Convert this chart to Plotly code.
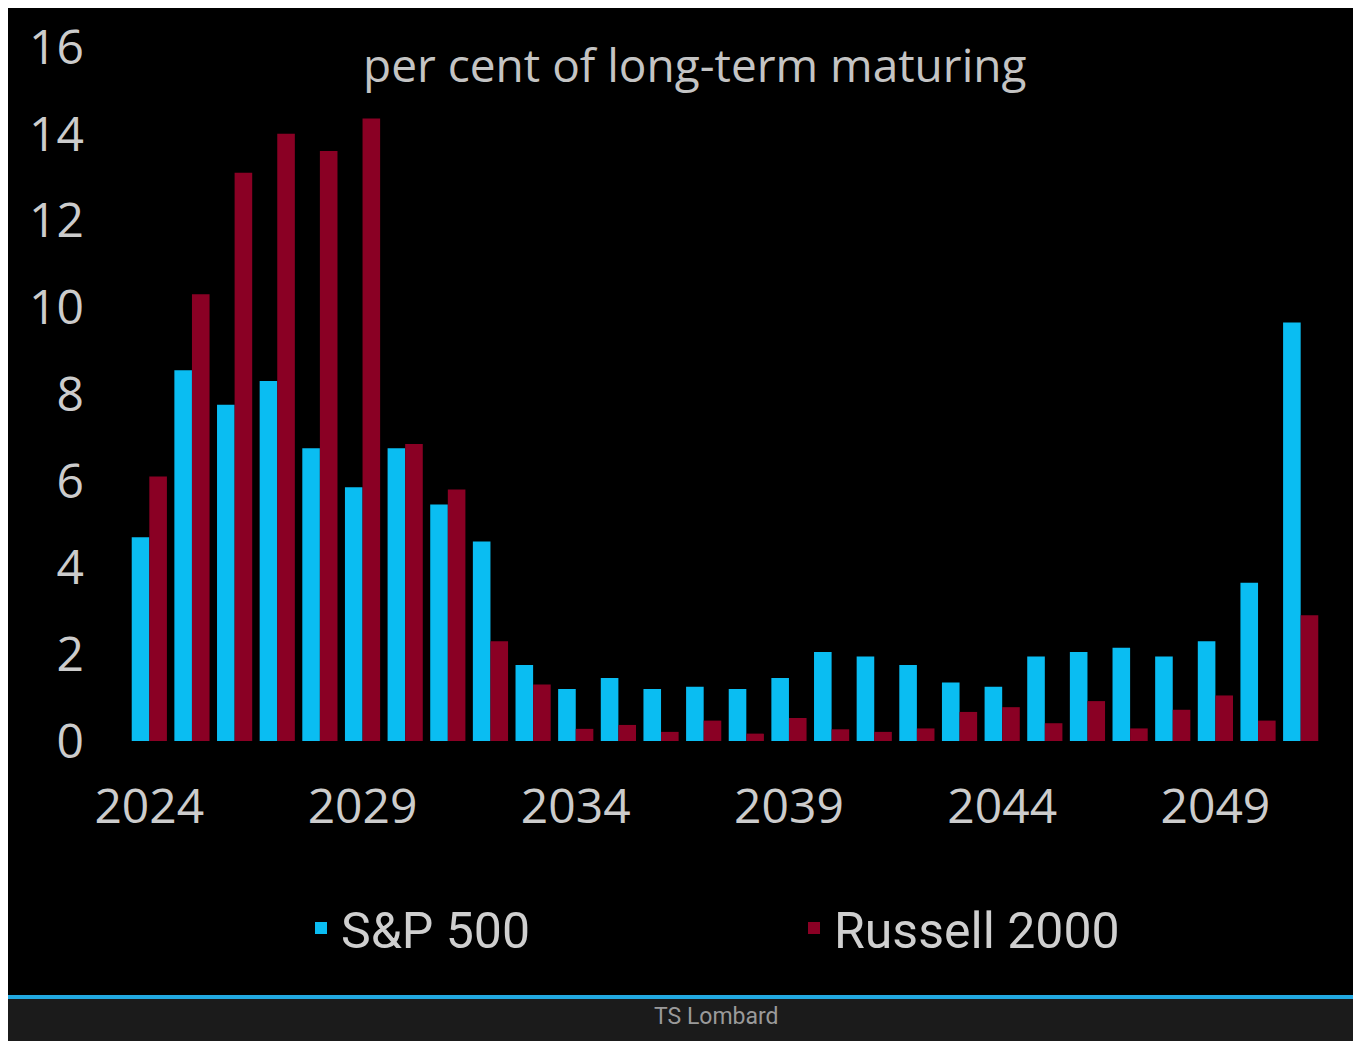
import plotly.graph_objects as go

years = list(range(2024, 2052))
sp500 = [4.7, 8.55, 7.75, 8.3, 6.75, 5.85, 6.75, 5.45, 4.6, 1.75, 1.2, 1.45, 1.2, 1.25,
         1.2, 1.45, 2.05, 1.95, 1.75, 1.35, 1.25, 1.95, 2.05, 2.15, 1.95, 2.3, 3.65, 9.65]
russell = [6.1, 10.3, 13.1, 14.0, 13.6, 14.35, 6.85, 5.8, 2.3, 1.3, 0.28, 0.37, 0.21, 0.47,
           0.17, 0.53, 0.27, 0.21, 0.29, 0.67, 0.78, 0.41, 0.92, 0.29, 0.72, 1.05, 0.47, 2.9]
y_ticks = [0, 2, 4, 6, 8, 10, 12, 14, 16]
x_ticks = [2024, 2029, 2034, 2039, 2044, 2049]

W, H = 1353, 1041
L, R, T, B = 128, 1322, 47, 741

BLUE = "#0ABDF2"
RED = "#8A0024"
FONT = "Roboto, Arial, sans-serif"
TICKFONT = "Open Sans, Arial, sans-serif"

fig = go.Figure()
fig.add_trace(go.Bar(x=years, y=sp500, name="S&P 500", marker=dict(color=BLUE, line=dict(width=0)),
                     legend="legend", showlegend=True))
fig.add_trace(go.Bar(x=years, y=russell, name="Russell 2000", marker=dict(color=RED, line=dict(width=0)),
                     legend="legend2", showlegend=True))

def cx(px):
    return px / W

def cy(py):
    return 1 - py / H

fig.update_layout(
    width=W, height=H,
    showlegend=True,
    margin=dict(l=L, r=W - R, t=T, b=H - B, autoexpand=False),
    paper_bgcolor="white",
    plot_bgcolor="black",
    barmode="group",
    bargap=0.175,
    bargroupgap=0,
    font=dict(family=FONT, color="#d2d2d2"),
    xaxis=dict(range=[2023.5, 2051.5], tickvals=x_ticks, ticks="", showgrid=False,
               zeroline=False, showline=False, tickfont=dict(size=48, color="#cccccc", family=TICKFONT),
               ticklabelstandoff=33),
    yaxis=dict(range=[0, 16], tickvals=y_ticks, ticks="", showgrid=False, zeroline=False,
               showline=False, tickfont=dict(size=48, color="#cccccc", family=TICKFONT),
               ticklabelstandoff=43),
    legend=dict(xref="container", yref="container", x=cx(301), y=cy(928), xanchor="left",
                yanchor="middle", orientation="h", bgcolor="rgba(0,0,0,0)", visible=True,
                font=dict(size=50, color="#cfcfcf", family=FONT)),
    legend2=dict(xref="container", yref="container", x=cx(794), y=cy(928), xanchor="left",
                 yanchor="middle", orientation="h", bgcolor="rgba(0,0,0,0)", visible=True,
                 font=dict(size=50, color="#cfcfcf", family=FONT)),
    annotations=[
        dict(text="per cent of long-term maturing", xref="paper", yref="paper",
             x=(694 - L) / (R - L), y=(B - 64) / (B - T), xanchor="center", yanchor="middle",
             showarrow=False, font=dict(size=46, color="#c4c4c4", family=TICKFONT)),
        dict(text="TS Lombard", xref="paper", yref="paper",
             x=(716 - L) / (R - L), y=(B - 1016) / (B - T), xanchor="center", yanchor="middle",
             showarrow=False, font=dict(size=23, color="#9a9a9a", family=FONT)),
    ],
)

def px_x(p):
    return (p - L) / (R - L)

def px_y(p):
    return (B - p) / (B - T)

shapes = [
    dict(type="rect", xref="paper", yref="paper", x0=px_x(8), x1=px_x(W + 5), y0=px_y(995), y1=px_y(8),
         fillcolor="black", line=dict(width=0), layer="below"),
    dict(type="rect", xref="paper", yref="paper", x0=px_x(8), x1=px_x(W + 5), y0=px_y(H + 5), y1=px_y(999),
         fillcolor="#1b1b1b", line=dict(width=0), layer="below"),
    dict(type="rect", xref="paper", yref="paper", x0=px_x(8), x1=px_x(W + 5), y0=px_y(999), y1=px_y(995),
         fillcolor="#22A9E1", line=dict(width=0), layer="below"),
]
fig.update_layout(shapes=shapes)

fig.write_html("out.html")
